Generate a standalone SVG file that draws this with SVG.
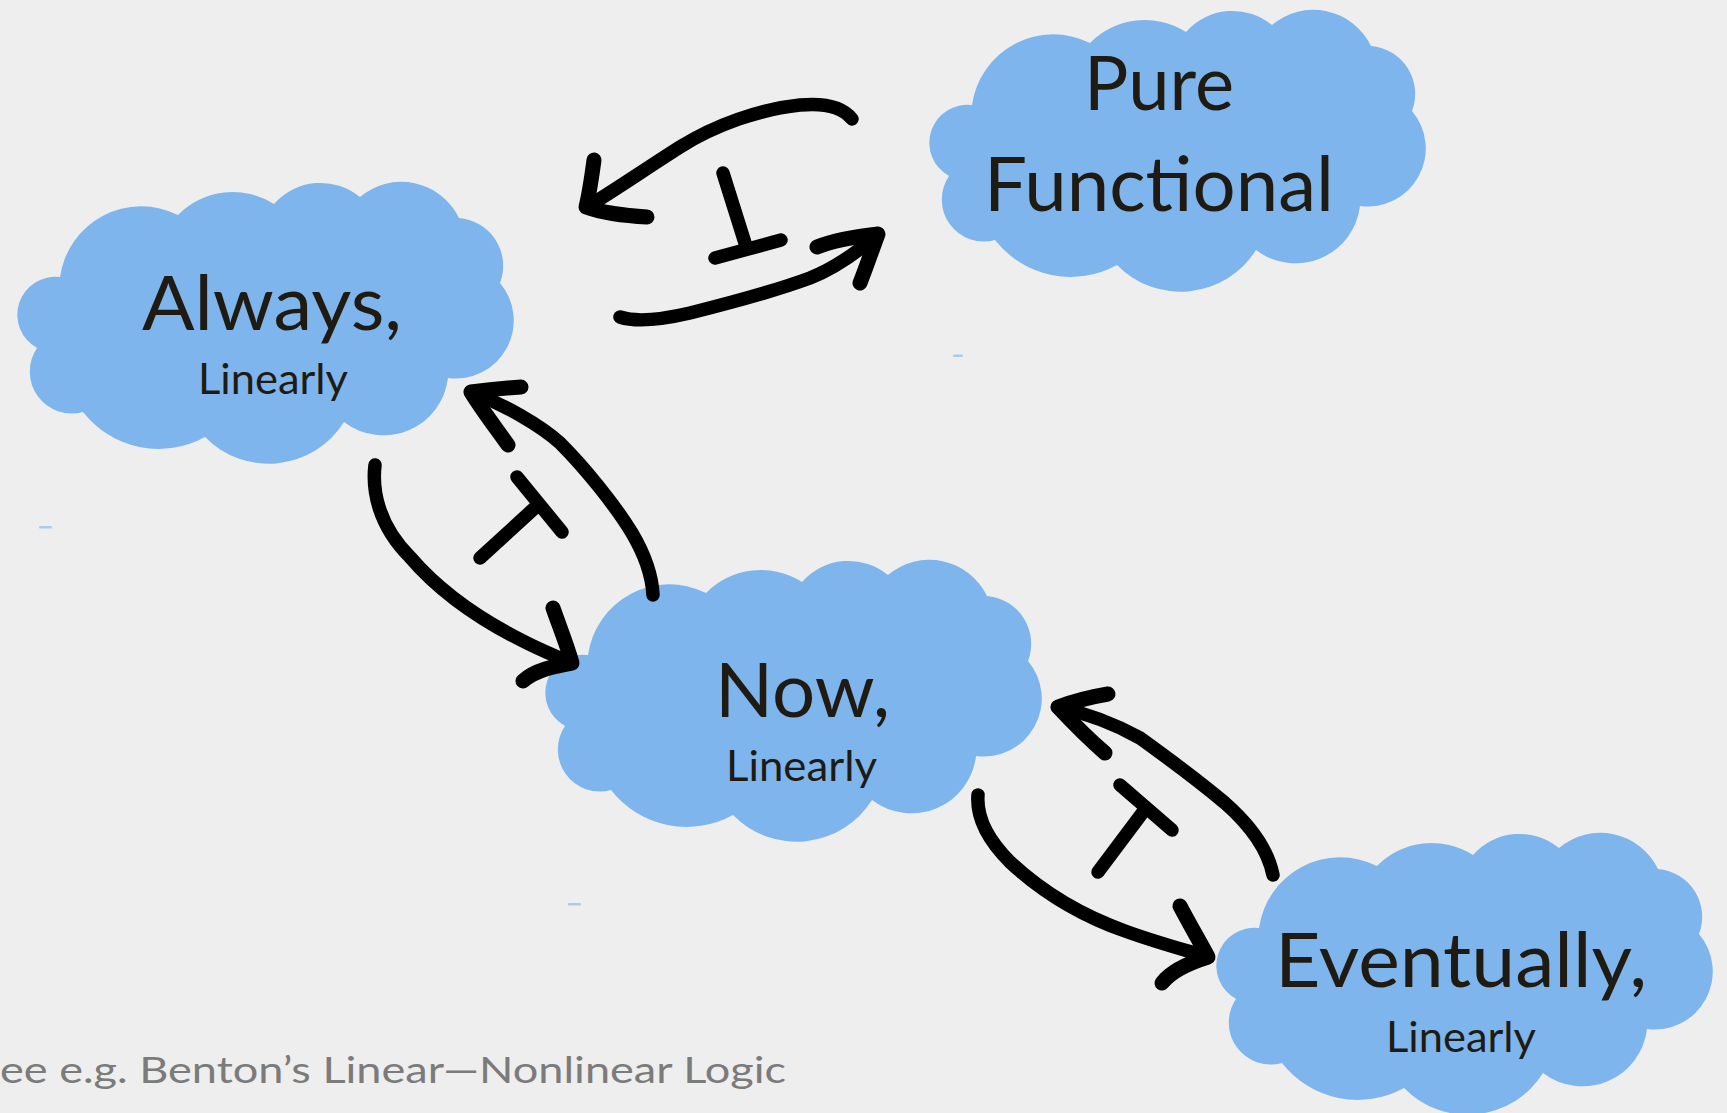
<svg xmlns="http://www.w3.org/2000/svg" xmlns:xlink="http://www.w3.org/1999/xlink" width="1727" height="1113" viewBox="0 0 1727 1113">
  <defs>
    <style>
      .cloud { fill: #7eb5ec; }
      .big { font-family: Lato, "Open Sans", "Liberation Sans", sans-serif; font-size: 76px; fill: #1f1b12; }
      .small { font-family: Lato, "Open Sans", "Liberation Sans", sans-serif; font-size: 43px; fill: #1f1b12; }
      .note { font-family: Lato, "Open Sans", "Liberation Sans", sans-serif; font-size: 37px; fill: #7b7b7b; }
      .ink { fill: none; stroke: #000; stroke-width: 13.5; stroke-linecap: round; stroke-linejoin: round; }
      .head { fill: none; stroke: #000; stroke-width: 15; stroke-linecap: round; stroke-linejoin: round; }
      .speck { fill: #a8ccf0; }
    </style>
    <!-- cloud outline, 503 x 281 box, built from circular lobes -->
    <path id="cloud" d="M46,95 A82,82 0 0 1 164,33 A77,77 0 0 1 260,22 A62,62 0 0 1 346,15 A64,64 0 0 1 445,36 A48,48 0 0 1 486,101 A58,58 0 0 1 434,196 A65,65 0 0 1 330,240 A89,89 0 0 1 191,255 A96,96 0 0 1 69,230 A42,42 0 0 1 23,166 A38,38 0 0 1 46,95 Z"/>
  </defs>

  <rect width="1727" height="1113" fill="#eeeeee"/>

  <!-- stray specks of blue -->
  <g id="specks">
    <rect class="speck" x="39" y="526" width="13" height="2.5" rx="1"/>
    <rect class="speck" x="953" y="354.5" width="10" height="2.5" rx="1"/>
    <rect class="speck" x="568" y="903" width="13" height="2.5" rx="1"/>
  </g>

  <g id="node-always">
    <use xlink:href="#cloud" class="cloud" transform="translate(14,182)"/>
    <text class="big" x="142" y="330" textLength="260" lengthAdjust="spacingAndGlyphs">Always,</text>
    <text class="small" x="198" y="394" textLength="150" lengthAdjust="spacingAndGlyphs">Linearly</text>
  </g>

  <g id="node-pure">
    <use xlink:href="#cloud" class="cloud" transform="translate(926,10)"/>
    <text class="big" x="1084" y="110" textLength="150" lengthAdjust="spacingAndGlyphs">Pure</text>
    <text class="big" x="984" y="211" textLength="350" lengthAdjust="spacingAndGlyphs">Functional</text>
  </g>

  <g id="node-now">
    <use xlink:href="#cloud" class="cloud" transform="translate(542,560)"/>
    <text class="big" x="715" y="717" textLength="175" lengthAdjust="spacingAndGlyphs">Now,</text>
    <text class="small" x="726" y="781" textLength="151" lengthAdjust="spacingAndGlyphs">Linearly</text>
  </g>

  <g id="node-eventually">
    <use xlink:href="#cloud" class="cloud" transform="translate(1213,833)"/>
    <text class="big" x="1275" y="987" textLength="372" lengthAdjust="spacingAndGlyphs">Eventually,</text>
    <text class="small" x="1386" y="1052" textLength="150" lengthAdjust="spacingAndGlyphs">Linearly</text>
  </g>

  <g id="connectors">
    <!-- Pure Functional -> Always -->
    <path class="ink" d="M852,119 C842,106 822,103 800,105 C760,109 715,125 680,147 C650,166 615,190 587,207"/>
    <path class="head" d="M594,160 C592,175 589,195 586,207 C600,212 625,216 647,217"/>
    <!-- Always -> Pure Functional -->
    <path class="ink" d="M620,317 C635,322 660,320 690,313 C730,303 775,291 810,278 C835,268 860,250 878,234"/>
    <path class="head" d="M817,247 C835,240 860,236 878,234 C872,250 866,268 860,283"/>
    <!-- adjunction mark between them -->
    <path class="ink" d="M723,173 L745,243 M715,258 L781,240"/>

    <!-- Now -> Always -->
    <path class="ink" d="M653,595 C652,575 645,555 632,533 C615,505 585,468 560,443 C540,425 505,405 471,392"/>
    <path class="head" d="M521,387 C505,388 485,390 471,392 C482,410 496,428 508,445"/>
    <!-- Always -> Now -->
    <path class="ink" d="M375,465 C372,490 378,525 410,557 C440,592 480,620 527,643 C545,652 560,658 572,663"/>
    <path class="head" d="M553,608 C560,628 567,645 572,663 C555,666 535,670 523,681"/>
    <!-- adjunction mark -->
    <path class="ink" d="M480,558 L539,504 M517,477 L562,532"/>

    <!-- Eventually -> Now -->
    <path class="ink" d="M1273,875 C1268,850 1250,825 1225,803 C1200,782 1165,756 1140,738 C1115,724 1085,713 1058,707"/>
    <path class="head" d="M1108,694 C1090,697 1072,702 1058,707 C1072,722 1090,740 1105,753"/>
    <!-- Now -> Eventually -->
    <path class="ink" d="M978,795 C976,820 990,842 1010,862 C1040,890 1080,915 1125,931 C1155,942 1185,950 1208,957"/>
    <path class="head" d="M1180,906 C1190,925 1200,942 1208,957 C1192,962 1172,970 1162,983"/>
    <!-- adjunction mark -->
    <path class="ink" d="M1098,872 L1146,808 M1120,785 L1172,830"/>
  </g>

  <text class="note" x="0" y="1083" textLength="786" lengthAdjust="spacingAndGlyphs">ee e.g. Benton’s Linear—Nonlinear Logic</text>
</svg>
